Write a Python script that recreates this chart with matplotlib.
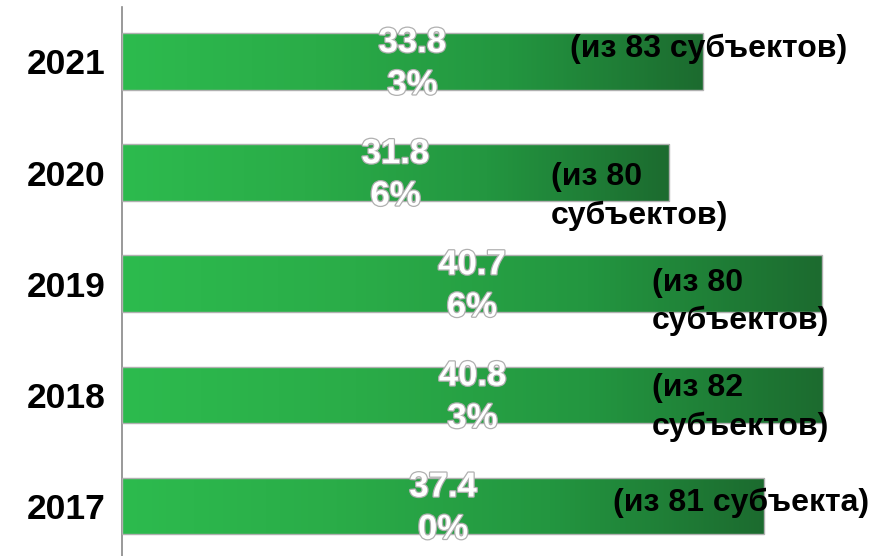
import matplotlib.pyplot as plt
import matplotlib.patheffects as pe
from matplotlib.colors import LinearSegmentedColormap
import numpy as np

# Data
years = ['2017', '2018', '2019', '2020', '2021']
values = [37.40, 40.83, 40.76, 31.86, 33.83]
value_labels = ['37.4\n0%', '40.8\n3%', '40.7\n6%', '31.8\n6%', '33.8\n3%']
notes = ['(из 81 субъекта)', '(из 82\nсубъектов)', '(из 80\nсубъектов)',
         '(из 80\nсубъектов)', '(из 83 субъектов)']
# Note placement: left edge (data units) and first-line offset from bar centre
note_x = [28.6, 30.85, 30.85, 25.0, 26.1]
note_dy = [0.03, 0.06, 0.01, -0.04, 0.11]

plt.rcParams['font.family'] = ['Liberation Sans', 'DejaVu Sans']

fig = plt.figure(figsize=(8.92, 5.56), dpi=100)
ax = fig.add_axes([122 / 892, 0, 770 / 892, 549 / 556])

cmap = LinearSegmentedColormap.from_list(
    'grn', ['#2dbb4e', '#2aac48', '#239640', '#1c6b2f'])
grad = np.linspace(0, 1, 256).reshape(1, -1)

ypos = np.arange(len(years))
bars = ax.barh(ypos, values, height=0.51, color='none',
               edgecolor='#b0b0b0', linewidth=1.0, zorder=3)

for bar in bars:
    x0, y0 = bar.get_x(), bar.get_y()
    w, h = bar.get_width(), bar.get_height()
    im = ax.imshow(grad, cmap=cmap, aspect='auto', zorder=2,
                   extent=[x0, x0 + w, y0, y0 + h], interpolation='bicubic')
    im.set_clip_path(bar)

# Value labels, white with grey outline
for bar, lab in zip(bars, value_labels):
    cx = bar.get_x() + bar.get_width() / 2
    cy = bar.get_y() + bar.get_height() / 2
    ax.text(cx, cy - 0.02, lab, ha='center', va='center', fontsize=25,
            fontweight='bold', color='white', linespacing=1.36, zorder=5,
            path_effects=[pe.withStroke(linewidth=1.8, foreground='#b0b0b0')])

# Notes
line_gap = 0.347
for y, nx, dy, note in zip(ypos, note_x, note_dy, notes):
    for i, line in enumerate(note.split('\n')):
        ax.text(nx, y + dy - i * line_gap, line, ha='left', va='center',
                fontsize=23, fontweight='bold', color='black', zorder=6)

ax.set_xlim(0, 770 / 17.17)
ax.set_ylim(-0.45, 4.49)
ax.set_yticks(ypos)
ax.set_yticklabels(years, fontsize=25.5, fontweight='bold')
ax.tick_params(axis='y', length=0, pad=12)
ax.set_xticks([])
for s in ['top', 'right', 'bottom']:
    ax.spines[s].set_visible(False)
ax.spines['left'].set_color('#888888')
ax.spines['left'].set_linewidth(1.2)

fig.savefig('out.png', dpi=100)
